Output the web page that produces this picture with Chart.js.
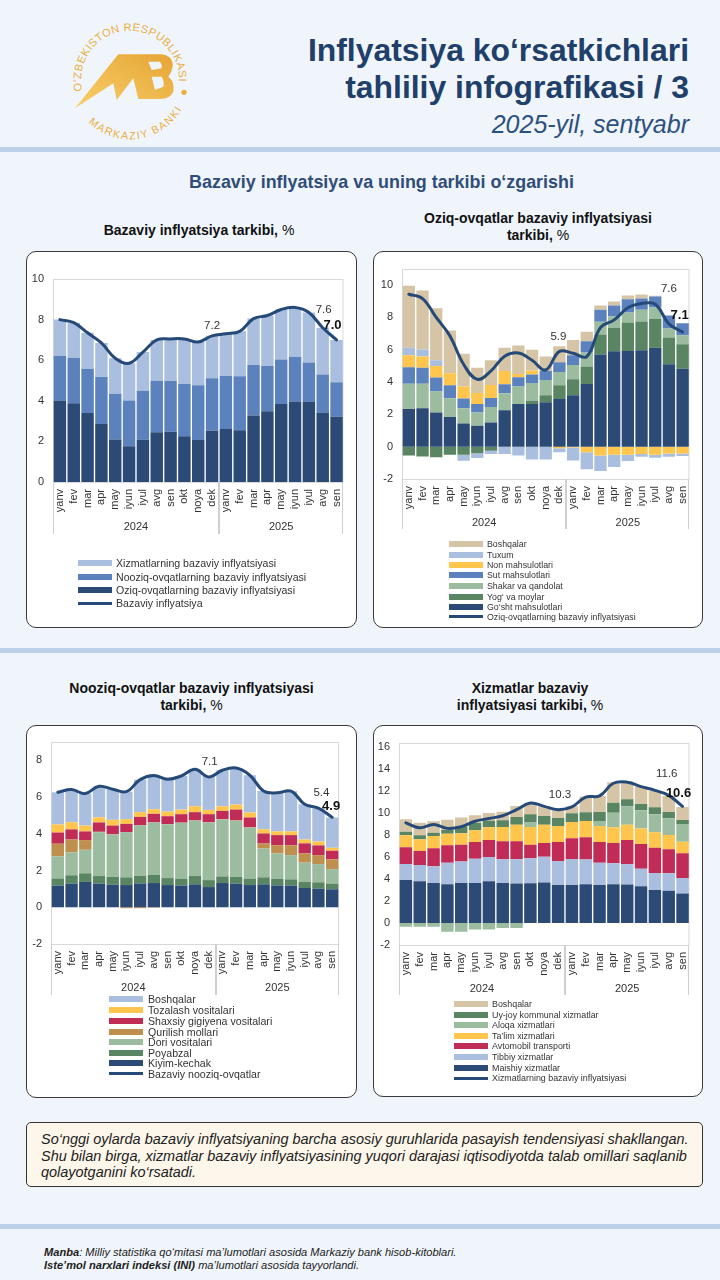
<!DOCTYPE html>
<html>
<head>
<meta charset="utf-8">
<script src="https://cdn.jsdelivr.net/npm/chart.js@4"></script>
<style>
html, body { margin: 0; padding: 0; }
body { width: 720px; height: 1280px; background: #f0f5fc; font-family: "Liberation Sans", Arial, sans-serif; position: relative; overflow: hidden; color: #222; }
.abs { position: absolute; white-space: nowrap; }
.band { position: absolute; left: 0; width: 720px; height: 5px; background: #bdd2e8; }
.title { right: 31px; font-size: 31.9px; font-weight: bold; color: #20406a; line-height: 38px; }
.sub { right: 31px; top: 110px; font-size: 25px; font-style: italic; color: #2b5080; }
.section { left: 0; width: 763px; text-align: center; top: 172px; font-size: 17.9px; font-weight: bold; color: #2f4d78; }
.ctitle { text-align: center; font-size: 14px; font-weight: bold; line-height: 17px; color: #111; }
.ctitle span { font-weight: normal; }
.card { position: absolute; background: #fff; border: 1.5px solid #3a3a3a; border-radius: 10px; box-sizing: border-box; }
canvas { position: absolute; left: 0; top: 0; }
.lg-text { position: absolute; white-space: nowrap; color: #333; transform: translateY(-50%); }
.lg-swatch { position: absolute; }
.note { position: absolute; left: 26px; top: 1122px; width: 677px; height: 65px; box-sizing: border-box; background: #fdf6ea; border: 1.5px solid #333; border-radius: 5px; padding: 8px 0 0 14px; font-size: 14.46px; line-height: 16.7px; font-style: italic; color: #222; white-space: nowrap; }
.foot { left: 44px; font-size: 11.1px; font-style: italic; color: #222; }
</style>
</head>
<body>

<svg class="abs" style="left:60px;top:15px" width="140" height="140" viewBox="0 0 420 420">
  <defs>
    <linearGradient id="gold" x1="0" y1="1" x2="1" y2="0">
      <stop offset="0" stop-color="#f8cf6a"/><stop offset="1" stop-color="#e6a534"/>
    </linearGradient>
    <path id="arcTop" d="M 66.8 228 A 147 147 0 1 1 356.8 202.7"/>
    <path id="arcBot" d="M 75.7 311.8 A 178 178 0 0 0 370 273"/>
  </defs>
  <text font-family="Liberation Sans" font-size="33" fill="#e9ae40"><textPath href="#arcTop" textLength="500">O‘ZBEKISTON RESPUBLIKASI</textPath></text>
  <text font-family="Liberation Sans" font-size="32" fill="#e9ae40"><textPath href="#arcBot" startOffset="4%" textLength="325">MARKAZIY BANKI</textPath></text>
  <circle cx="372" cy="232" r="8" fill="#e9ae40"/>
  <path fill="url(#gold)" fill-rule="evenodd" d="M45 280 L175 118 L300 118 Q340 120 338 155 Q335 172 325 185 Q345 200 340 230 Q332 250 300 252 L235 252 L220 190 L170 255 L160 205 Z M265 140 L300 140 Q308 150 305 160 L275 165 Z M275 185 L305 185 Q314 200 310 215 L285 225 Z"/>
</svg>

<div class="abs title" style="top:31px">Inflyatsiya ko‘rsatkichlari</div>
<div class="abs title" style="top:68px">tahliliy infografikasi / 3</div>
<div class="abs sub">2025-yil, sentyabr</div>
<div class="band" style="top:147px"></div>
<div class="abs section">Bazaviy inflyatsiya va uning tarkibi o‘zgarishi</div>

<div class="abs ctitle" style="left:26px;width:346px;top:222px">Bazaviy inflyatsiya tarkibi, <span>%</span></div>
<div class="abs ctitle" style="left:373px;width:330px;top:210px">Oziq-ovqatlar bazaviy inflyatsiyasi<br>tarkibi, <span>%</span></div>
<div class="band" style="top:648px"></div>
<div class="abs ctitle" style="left:26px;width:331px;top:680px">Nooziq-ovqatlar bazaviy inflyatsiyasi<br>tarkibi, <span>%</span></div>
<div class="abs ctitle" style="left:365px;width:330px;top:680px">Xizmatlar bazaviy<br>inflyatsiyasi tarkibi, <span>%</span></div>

<div class="note">So‘nggi oylarda bazaviy inflyatsiyaning barcha asosiy guruhlarida pasayish tendensiyasi shakllangan.<br>Shu bilan birga, xizmatlar bazaviy inflyatsiyasining yuqori darajasi iqtisodiyotda talab omillari saqlanib<br>qolayotganini ko‘rsatadi.</div>
<div class="band" style="top:1224px"></div>
<div class="abs foot" style="top:1246px"><b>Manba</b>: Milliy statistika qo‘mitasi ma’lumotlari asosida Markaziy bank hisob-kitoblari.</div>
<div class="abs foot" style="top:1259px"><b>Iste’mol narxlari indeksi (INI)</b> ma’lumotlari asosida tayyorlandi.</div>

<script>
const months = ["yanv","fev","mar","apr","may","iyun","iyul","avg","sen","okt","noya","dek",
                "yanv","fev","mar","apr","may","iyun","iyul","avg","sen"];
const yearLabels = ["2024", "2025"];
const yearSpans = [12, 9];
const labelledPoints = [11, 19, 20];

// Bazaviy inflyatsiya
const coreTicks = [0, 2, 4, 6, 8, 10];
const coreFood = [4.02,3.88,3.40,2.86,2.09,1.76,2.08,2.45,2.48,2.25,2.07,2.53,2.61,2.55,3.27,3.48,3.84,3.97,3.94,3.42,3.21];
const coreNonfood = [2.20,2.24,2.18,2.31,2.26,2.26,2.42,2.54,2.50,2.58,2.69,2.58,2.61,2.66,2.49,2.23,2.19,2.20,1.95,1.87,1.70];
const coreServices = [1.78,1.73,1.77,1.68,1.75,1.83,1.90,2.01,2.07,2.22,2.14,2.09,2.08,2.21,2.29,2.49,2.47,2.43,2.46,2.31,2.09];
const coreLine = [8.0,7.85,7.35,6.85,6.1,5.85,6.4,7.0,7.05,7.05,6.9,7.2,7.3,7.42,8.05,8.2,8.5,8.6,8.35,7.6,7.0];

// Oziq-ovqat
const foodTicks = [-2, 0, 2, 4, 6, 8, 10];
const foodMeat = [2.33,2.38,2.11,1.84,1.43,1.30,1.49,2.25,2.64,2.64,2.75,2.95,3.18,3.88,5.70,5.91,5.93,5.97,6.12,5.10,4.83];
const foodOil = [-0.55,-0.6,-0.65,-0.5,-0.5,-0.4,-0.25,0,0,0.21,0.43,0.85,0.99,1.08,1.24,1.45,1.76,1.78,1.79,1.66,1.51];
const foodSugar = [1.57,1.52,1.30,1.16,0.95,0.81,0.97,1.06,1.08,1.09,0.95,0.83,0.89,0.87,0.79,0.70,0.62,0.72,0.71,0.55,0.56];
const foodMilk = [1.02,0.98,0.87,0.80,0.60,0.53,0.56,0.55,0.58,0.53,0.56,0.60,0.60,0.70,0.74,0.68,0.82,0.70,0.68,0.81,0.74];
const foodBread = [0.74,0.70,0.72,0.75,0.74,0.69,0.80,0.83,0.20,0.25,0,-0.1,-0.05,-0.35,-0.55,-0.5,-0.5,-0.45,-0.5,-0.42,-0.42];
const foodEggs = [0.46,0.43,0.35,0,-0.37,-0.3,-0.2,-0.45,-0.55,-0.8,-0.8,-0.25,-0.8,-1.05,-0.95,-0.76,-0.39,-0.17,-0.18,-0.2,-0.16];
const foodOther = [3.84,3.66,3.22,2.64,2.04,1.55,1.53,1.43,1.76,1.28,0.89,0.99,0.95,0.58,0.27,0.25,0.23,0.25,0.04,0,0];
const foodLine = [9.44,9.17,8.0,6.86,5.1,4.17,4.69,5.6,5.8,5.35,4.75,5.9,5.78,5.58,7.37,7.85,8.6,8.86,8.82,7.6,7.1];

// Nooziq-ovqat
const nonfoodTicks = [-2, 0, 2, 4, 6, 8];
const nfClothes = [1.18,1.29,1.38,1.29,1.23,1.21,1.30,1.32,1.21,1.18,1.25,1.10,1.32,1.29,1.21,1.25,1.19,1.18,1.05,1.01,0.98];
const nfShoes = [0.39,0.45,0.47,0.41,0.42,0.42,0.42,0.45,0.38,0.38,0.45,0.38,0.36,0.36,0.35,0.38,0.35,0.34,0.33,0.35,0.31];
const nfMedicine = [1.20,1.25,1.28,2.39,2.31,2.46,2.75,2.85,2.93,3.04,3.02,3.14,3.10,3.06,2.77,1.57,1.39,1.32,1.05,0.99,0.79];
const nfBuilding = [0.69,0.70,0.53,0.02,0.02,-0.05,-0.05,-0.02,0.01,0.01,0.01,0.01,0.02,0.03,0.03,0.27,0.45,0.54,0.50,0.49,0.53];
const nfHygiene = [0.61,0.55,0.47,0.51,0.47,0.45,0.45,0.47,0.43,0.46,0.45,0.44,0.45,0.58,0.53,0.55,0.55,0.55,0.55,0.53,0.47];
const nfCleaning = [0.44,0.39,0.32,0.28,0.31,0.26,0.26,0.25,0.25,0.25,0.32,0.23,0.25,0.27,0.27,0.23,0.20,0.20,0.21,0.21,0.16];
const nfOther = [1.75,1.78,1.74,1.69,1.67,1.50,1.77,1.83,1.76,1.83,2.01,1.85,1.96,1.99,2.03,2.08,2.10,2.19,1.92,1.80,1.65];
const nfLine = [6.26,6.41,6.19,6.59,6.43,6.30,6.95,7.17,6.97,7.15,7.51,7.1,7.46,7.58,7.19,6.33,6.23,6.32,5.61,5.4,4.9];

// Xizmatlar
const servTicks = [-2, 0, 2, 4, 6, 8, 10, 12, 14, 16];
const svHousehold = [3.91,3.79,3.64,3.52,3.64,3.64,3.79,3.64,3.58,3.61,3.67,3.46,3.46,3.52,3.46,3.52,3.49,3.33,3.0,2.94,2.67];
const svMedical = [1.45,1.48,1.51,1.96,1.94,2.21,2.21,2.15,2.21,2.27,2.36,2.18,2.36,2.24,2.02,1.90,1.84,1.61,1.55,1.58,1.42];
const svAuto = [1.52,1.28,1.64,1.58,1.54,1.51,1.55,1.63,1.63,1.24,1.24,1.72,1.88,2.03,1.88,1.85,2.22,2.24,2.30,2.18,2.24];
const svEducation = [1.09,1.06,1.12,1.06,1.03,1.06,1.15,1.31,1.52,1.61,1.67,1.46,1.48,1.48,1.46,1.43,1.39,1.40,1.39,1.30,1.06];
const svTelecom = [-0.35,-0.35,-0.35,-0.8,-0.8,-0.6,-0.6,-0.45,-0.45,0.45,0,0,0,0,0.45,1.33,1.66,1.66,1.64,1.52,1.61];
const svUtilities = [0.33,0.36,0.30,0.33,0.61,0.67,0.60,0.60,0.70,0.70,0.79,0.73,0.79,0.79,0.82,0.91,0.64,0.58,0.64,0.57,0.36];
const svOther = [1.12,1.15,1.03,0.94,0.82,0.70,0.70,0.79,1.0,1.02,0.87,0.85,0.63,1.44,1.46,1.86,1.61,1.58,1.48,1.46,1.19];
const svLine = [9.1,8.65,8.95,8.6,8.75,9.25,9.5,9.75,10.3,10.9,10.6,10.3,10.55,11.45,11.55,12.7,12.8,12.4,12.05,11.6,10.6];

const NAVY = "#2b4a76", MID = "#5b82bd", PALE = "#aabfdf", TAN = "#d6c4a6", YELLOW = "#ffc54c",
      GREEN = "#5a8562", SAGE = "#9bbc9e", RED = "#c02c55", BROWN = "#bf8f4e", LINE = "#264a78";

const charts = [
  {
    card: [26, 251, 331, 377], plot: [53, 279, 346, 482], yMin: 0, yMax: 10, ticks: coreTicks,
    stacks: [["Oziq-ovqatlarning bazaviy inflyatsiyasi", coreFood, NAVY],
             ["Nooziq-ovqatlarning bazaviy inflyatsiyasi", coreNonfood, MID],
             ["Xizmatlarning bazaviy inflyatsiyasi", coreServices, PALE]],
    line: ["Bazaviy inflyatsiya", coreLine],
    yearBottom: 534, yearY: 527,
    offsets: [[0, -10], [1, -18], [-4, -14]],
    legend: { swatchX: 78, textX: 116, rows: [563, 576.5, 590, 603], font: 10.6 }
  },
  {
    card: [373, 251, 330, 377], plot: [402, 269, 695, 479], yMin: -2, yMax: 11, ticks: foodTicks,
    stacks: [["Go‘sht mahsulotlari", foodMeat, NAVY],
             ["Yog‘ va moylar", foodOil, GREEN],
             ["Shakar va qandolat", foodSugar, SAGE],
             ["Sut mahsulotlari", foodMilk, MID],
             ["Non mahsulotlari", foodBread, YELLOW],
             ["Tuxum", foodEggs, PALE],
             ["Boshqalar", foodOther, TAN]],
    line: ["Oziq-ovqatlarning bazaviy inflyatsiyasi", foodLine],
    yearBottom: 529, yearY: 523,
    offsets: [[-1, -15], [0, -35], [-3, -17]],
    legend: { swatchX: 449, textX: 487, rows: [544, 555, 565.3, 575.3, 586, 596.7, 607, 616.7], font: 8.8 }
  },
  {
    card: [26, 725, 331, 373], plot: [51, 742, 339, 944], yMin: -2, yMax: 9, ticks: nonfoodTicks,
    stacks: [["Kiyim-kechak", nfClothes, NAVY],
             ["Poyabzal", nfShoes, GREEN],
             ["Dori vositalari", nfMedicine, SAGE],
             ["Qurilish mollari", nfBuilding, BROWN],
             ["Shaxsiy gigiyena vositalari", nfHygiene, RED],
             ["Tozalash vositalari", nfCleaning, YELLOW],
             ["Boshqalar", nfOther, PALE]],
    line: ["Bazaviy nooziq-ovqatlar", nfLine],
    yearBottom: 995, yearY: 988,
    offsets: [[1, -15], [3, -15], [-1, -11]],
    legend: { swatchX: 109, textX: 148, rows: [999.3, 1010.3, 1021, 1032, 1042, 1052.7, 1063, 1073.7], font: 10.6 }
  },
  {
    card: [373, 725, 330, 372], plot: [399, 743, 692, 945], yMin: -2, yMax: 16.36, ticks: servTicks,
    stacks: [["Maishiy xizmatlar", svHousehold, NAVY],
             ["Tibbiy xizmatlar", svMedical, PALE],
             ["Avtomobil transporti", svAuto, RED],
             ["Ta’lim xizmatlari", svEducation, YELLOW],
             ["Aloqa xizmatlari", svTelecom, SAGE],
             ["Uy-joy kommunal xizmatlar", svUtilities, GREEN],
             ["Boshqalar", svOther, TAN]],
    line: ["Xizmatlarning bazaviy inflyatsiyasi", svLine],
    yearBottom: 995, yearY: 989,
    offsets: [[2, -15], [-2, -22], [-4, -13]],
    legend: { swatchX: 454, textX: 492, rows: [1004.3, 1014.7, 1025.3, 1035.7, 1046.3, 1057, 1067.7, 1078], font: 8.9 }
  }
];

const frameAndLabels = {
  id: "frameAndLabels",
  beforeDatasetsDraw(chart, args, opts) {
    const { ctx, chartArea: a } = chart;
    ctx.save();
    ctx.strokeStyle = "#d9d9d9";
    ctx.lineWidth = 1;
    ctx.strokeRect(a.left + 0.5, a.top + 0.5, a.right - a.left - 1, a.bottom - a.top);
    ctx.restore();
  },
  afterDraw(chart, args, opts) {
    const { ctx, chartArea: a, scales } = chart;
    const x = scales.x, y = scales.y;
    const cfg = opts.cfg;
    ctx.save();

    // year groups under the month labels
    ctx.strokeStyle = "#cfcfcf";
    ctx.lineWidth = 1;
    ctx.fillStyle = "#333";
    ctx.font = '11px "Liberation Sans"';
    ctx.textAlign = "center";
    ctx.textBaseline = "middle";
    const bottom = cfg.yearBottom - cfg.card[1];
    let start = 0, left = a.left;
    yearSpans.forEach((span, i) => {
      const end = start + span;
      const right = end >= months.length ? a.right : (x.getPixelForValue(end - 1) + x.getPixelForValue(end)) / 2;
      ctx.beginPath();
      ctx.moveTo(Math.round(left) + 0.5, a.bottom);
      ctx.lineTo(Math.round(left) + 0.5, bottom);
      ctx.moveTo(Math.round(right) - 0.5, a.bottom);
      ctx.lineTo(Math.round(right) - 0.5, bottom);
      ctx.stroke();
      ctx.fillText(yearLabels[i], (left + right) / 2, cfg.yearY - cfg.card[1]);
      start = end;
      left = right;
    });

    // value labels on the line
    const values = cfg.line[1];
    labelledPoints.forEach((idx, i) => {
      const last = i === labelledPoints.length - 1;
      ctx.font = (last ? "bold 13px" : "11.5px") + ' "Liberation Sans"';
      ctx.fillStyle = last ? "#111" : "#333";
      ctx.fillText(values[idx].toFixed(1), x.getPixelForValue(idx) + cfg.offsets[i][0], y.getPixelForValue(values[idx]) + cfg.offsets[i][1]);
    });
    ctx.restore();
  }
};

charts.forEach(cfg => {
  const [cx, cy, cw, ch] = cfg.card;
  const [pl, pt, pr, pb] = cfg.plot;

  const card = document.createElement("div");
  card.className = "card";
  card.style.cssText = `left:${cx}px;top:${cy}px;width:${cw}px;height:${ch}px`;
  document.body.appendChild(card);

  const canvas = document.createElement("canvas");
  canvas.width = cw;
  canvas.height = ch;
  canvas.style.cssText = `position:absolute;left:${cx}px;top:${cy}px;width:${cw}px;height:${ch}px`;
  document.body.appendChild(canvas);

  const datasets = cfg.stacks.map(([label, data, color]) => ({
    type: "bar", label, data, backgroundColor: color, order: 1,
    barPercentage: 0.9, categoryPercentage: 1
  }));
  datasets.push({
    type: "line", label: cfg.line[0], data: cfg.line[1], stack: "line", order: 0,
    borderColor: LINE, borderWidth: 3, pointRadius: 0, tension: 0.4, borderCapStyle: "round", clip: false
  });

  new Chart(canvas.getContext("2d"), {
    data: { labels: months, datasets },
    plugins: [frameAndLabels],
    options: {
      responsive: false,
      animation: false,
      layout: { padding: { left: 0, top: pt - cy, right: cx + cw - pr, bottom: 0 } },
      plugins: { legend: { display: false }, tooltip: { enabled: false }, frameAndLabels: { cfg } },
      scales: {
        x: {
          stacked: true,
          grid: { display: false, drawTicks: false },
          border: { display: false },
          ticks: { autoSkip: false, minRotation: 90, maxRotation: 90, padding: 7, color: "#333", font: { family: "Liberation Sans", size: 11 } },
          afterFit: s => { s.height = cy + ch - pb; }
        },
        y: {
          stacked: true,
          min: cfg.yMin,
          max: cfg.yMax,
          grid: { display: false, drawTicks: false },
          border: { display: false },
          ticks: { padding: 9, color: "#333", font: { family: "Liberation Sans", size: 11 } },
          afterBuildTicks: s => { s.ticks = cfg.ticks.map(value => ({ value })); },
          afterFit: s => { s.width = pl - cx; }
        }
      }
    }
  });

  // legend rows, bars from top of the stack down, then the line
  const entries = cfg.stacks.slice().reverse().map(([label, , color]) => ({ label, color, h: 6 }));
  entries.push({ label: cfg.line[0], color: LINE, h: 3 });
  entries.forEach((e, i) => {
    const yPos = cfg.legend.rows[i];
    const sw = document.createElement("div");
    sw.className = "lg-swatch";
    sw.style.cssText = `left:${cfg.legend.swatchX}px;top:${yPos - e.h / 2}px;width:34px;height:${e.h}px;background:${e.color}`;
    document.body.appendChild(sw);
    const tx = document.createElement("div");
    tx.className = "lg-text";
    tx.textContent = e.label;
    tx.style.cssText = `left:${cfg.legend.textX}px;top:${yPos}px;font-size:${cfg.legend.font}px`;
    document.body.appendChild(tx);
  });
});
</script>
</body>
</html>
